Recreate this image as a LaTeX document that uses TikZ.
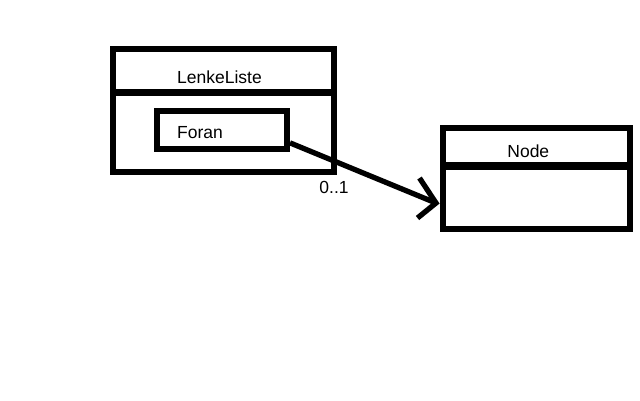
\documentclass[tikz,border=0pt]{standalone}
\usepackage{fontspec}
\setmainfont{Liberation Sans}
\usetikzlibrary{calc}
\begin{document}
\begin{tikzpicture}[x=1pt,y=-1pt,
  box/.style={draw=black,line width=6pt,rectangle,inner sep=0pt,minimum width=#1},
  lbl/.style={inner sep=0pt,font=\fontsize{17.5pt}{20pt}\selectfont},
  assoc/.style={line width=5.3pt},
  barb/.style={line width=5.3pt,line join=miter}]
\useasboundingbox[fill=white] (0,0) rectangle (640,400);
% LenkeListe class
\node[box=221pt,minimum height=123.3pt] (ll) at (223.5,110.35) {};
\draw[line width=6.4pt] (ll.west |- 0,92.5) -- (ll.east |- 0,92.5);
\node[lbl] (lltitle) at (219.5,77) {LenkeListe};
% Foran attribute
\node[box=130pt,minimum height=37.7pt] (foran) at (222,129.85) {};
\node[lbl] (forantxt) at (200,132.7) {Foran};
% Node class
\node[box=187.3pt,minimum height=100.7pt] (nodebox) at (536.65,178.35) {};
\draw[line width=8.3pt] (nodebox.west |- 0,165.8) -- (nodebox.east |- 0,165.8);
\node[lbl] (nodetxt) at (528.3,151.5) {Node};
% association
\coordinate (tip) at ([xshift=-4pt]nodebox.west |- 0,203);
\draw[assoc] ([yshift=-13pt]foran.east) -- (tip);
\draw[barb] ($(tip)+(-16.5,-25)$) -- (tip) -- ++(-18.5,15);
\node[lbl] (mult) at (334,187.5) {0..1};
\end{tikzpicture}
\end{document}
